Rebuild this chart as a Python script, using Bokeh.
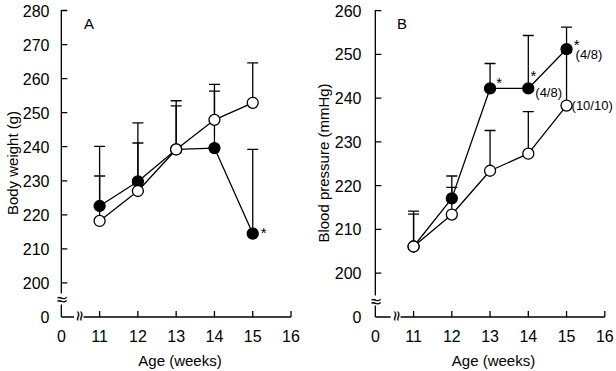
import numpy as np
from bokeh.plotting import figure
from bokeh.layouts import row
from bokeh.models import ColumnDataSource, Whisker, TeeHead, FixedTicker, Range1d
from bokeh.embed import file_html
from bokeh.resources import INLINE
from bokeh.core.properties import value

FONT = "Liberation Sans"
LW = 1.3

# ---- data -------------------------------------------------------------
weeks = [11, 12, 13, 14, 15]
x_ticks = [10, 11, 12, 13, 14, 15, 16]          # 10 stands for the broken "0"

# Panel A: body weight (g)
bw_filled = [222.6, 229.8, 239.2, 239.6, 214.5]
bw_filled_sd = [17.5, 17.2, 12.8, 16.7, 24.7]
bw_open = [218.2, 227.0, 239.2, 247.9, 252.9]
bw_open_sd = [13.2, 14.1, 14.3, 10.4, 11.7]
bw_ticks = [190, 200, 210, 220, 230, 240, 250, 260, 270, 280]   # 190 stands for "0"

# Panel B: blood pressure (mmHg)
bp_filled = [206.1, 217.1, 242.2, 242.2, 251.2]
bp_filled_sd = [8.1, 5.1, 5.7, 12.1, 5.0]
bp_open = [206.1, 213.4, 223.4, 227.3, 238.3]
bp_open_sd = [7.4, 6.2, 9.2, 9.6, 12.2]
bp_ticks = [190, 200, 210, 220, 230, 240, 250, 260]


def panel(letter, ylabel, filled, filled_sd, opened, opened_sd, yticks,
          y_range, x_range, border_left, border_right, y_gap, x_gap,
          label_standoff, title_standoff, letter_pos):
    p = figure(width=308, height=371, output_backend="svg", toolbar_location=None,
               x_range=Range1d(*x_range), y_range=Range1d(*y_range),
               min_border_left=border_left, min_border_right=border_right,
               min_border_top=5, min_border_bottom=51)
    p.grid.visible = False
    p.outline_line_color = None
    p.background_fill_color = "white"
    p.border_fill_color = "white"

    for ax in (p.xaxis[0], p.yaxis[0]):
        ax.axis_line_color = None
        ax.major_tick_line_color = None
        ax.minor_tick_line_color = None
        ax.major_label_text_font = FONT
        ax.major_label_text_font_size = "16px"
        ax.major_label_text_color = "black"
        ax.axis_label_text_font = FONT
        ax.axis_label_text_font_size = "15px"
        ax.axis_label_text_font_style = "normal"
        ax.axis_label_text_color = "black"
    p.xaxis.ticker = FixedTicker(ticks=x_ticks)
    p.xaxis.major_label_overrides = {10: "0"}
    p.xaxis.major_label_standoff = 3
    p.xaxis.axis_label = "Age (weeks)"
    p.xaxis.axis_label_standoff = 7
    p.yaxis.ticker = FixedTicker(ticks=yticks)
    p.yaxis.major_label_overrides = {190: "0"}
    p.yaxis.major_label_standoff = label_standoff
    p.yaxis.axis_label = ylabel
    p.yaxis.axis_label_standoff = title_standoff

    # broken axis lines
    top = yticks[-1] + 0.15
    p.segment(x0=[10, 10], y0=[190, y_gap[1]], x1=[10, 10], y1=[y_gap[0], top],
              line_color="black", line_width=LW)
    p.segment(x0=[10, x_gap[1]], y0=[190, 190], x1=[x_gap[0], 16], y1=[190, 190],
              line_color="black", line_width=LW)
    # inward ticks
    p.ray(x=[10] * (len(yticks) - 1), y=yticks[1:], length=6, angle=0,
          length_units="screen", line_color="black", line_width=LW)
    p.ray(x=x_ticks[1:], y=[190] * (len(x_ticks) - 1), length=6, angle=np.pi / 2,
          length_units="screen", line_color="black", line_width=LW)
    # break marks
    p.text(x=[10], y=[sum(y_gap) / 2], text=["\u2248"], text_align="center",
           text_baseline="middle", text_font=value("DejaVu Sans"), text_font_size="17px")
    p.text(x=[sum(x_gap) / 2], y=[190], text=["\u2248"], angle=np.pi / 2, text_align="center",
           text_baseline="middle", text_font=value("DejaVu Sans"), text_font_size="17px")

    # error bars (mean + SD)
    for m, sd in ((filled, filled_sd), (opened, opened_sd)):
        src = ColumnDataSource(dict(x=weeks, y=m, upper=list(np.array(m) + np.array(sd))))
        p.add_layout(Whisker(source=src, base="x", upper="upper", lower="y",
                             dimension="height", line_color="black", line_width=LW,
                             upper_head=TeeHead(size=11, line_color="black", line_width=LW),
                             lower_head=None))

    p.line(weeks, filled, line_color="black", line_width=LW)
    p.line(weeks, opened, line_color="black", line_width=LW)
    p.scatter(weeks, filled, size=11, marker="circle", fill_color="black",
              line_color="black", line_width=LW)
    p.scatter(weeks, opened, size=11, marker="circle", fill_color="white",
              line_color="black", line_width=LW)

    p.text(x=[letter_pos[0]], y=[letter_pos[1]], text=[letter], text_align="center",
           text_baseline="middle", text_font=value(FONT), text_font_size="15px")
    return p


pa = panel("A", "Body weight (g)", bw_filled, bw_filled_sd, bw_open, bw_open_sd, bw_ticks,
           (188.97, 281.47), (9.9, 16.3), 57, 6, (193.7, 196.9), (10.33, 10.58),
           2, -1, (10.72, 276.3))
pa.text(x=[weeks[4]], y=[bw_filled[4]], text=["*"], x_offset=11, y_offset=-1,
        text_align="center", text_baseline="alphabetic",
        text_font=value(FONT), text_font_size="15px")

pb = panel("B", "Blood pressure (mmHg)", bp_filled, bp_filled_sd, bp_open, bp_open_sd, bp_ticks,
           (189.2, 261.15), (9.9, 16.28), 63, 1, (192.6, 194.9), (10.40, 10.66),
           4, 0, (10.70, 257.1))
# significance marks and group counts
star_x = [weeks[2], weeks[3], weeks[4]]
star_y = [bp_filled[2], bp_filled[3], bp_filled[4]]
pb.text(x=star_x, y=star_y, text=["*", "*", "*"], x_offset=[9, 5, 10], y_offset=[-6, -13, -5],
        text_align="center", text_baseline="alphabetic",
        text_font=value(FONT), text_font_size="15px")
pb.text(x=[weeks[3], weeks[4]], y=[bp_filled[3], bp_filled[4]], text=["(4/8)", "(4/8)"],
        x_offset=[7, 9], y_offset=[4, 5], text_align="left", text_baseline="middle",
        text_font=value(FONT), text_font_size="13px")
pb.text(x=[weeks[4]], y=[bp_open[4]], text=["(10/10)"], x_offset=5, y_offset=0,
        text_align="left", text_baseline="middle",
        text_font=value(FONT), text_font_size="13px")

layout = row(pa, pb)
open("out.html", "w").write(file_html(layout, INLINE))
